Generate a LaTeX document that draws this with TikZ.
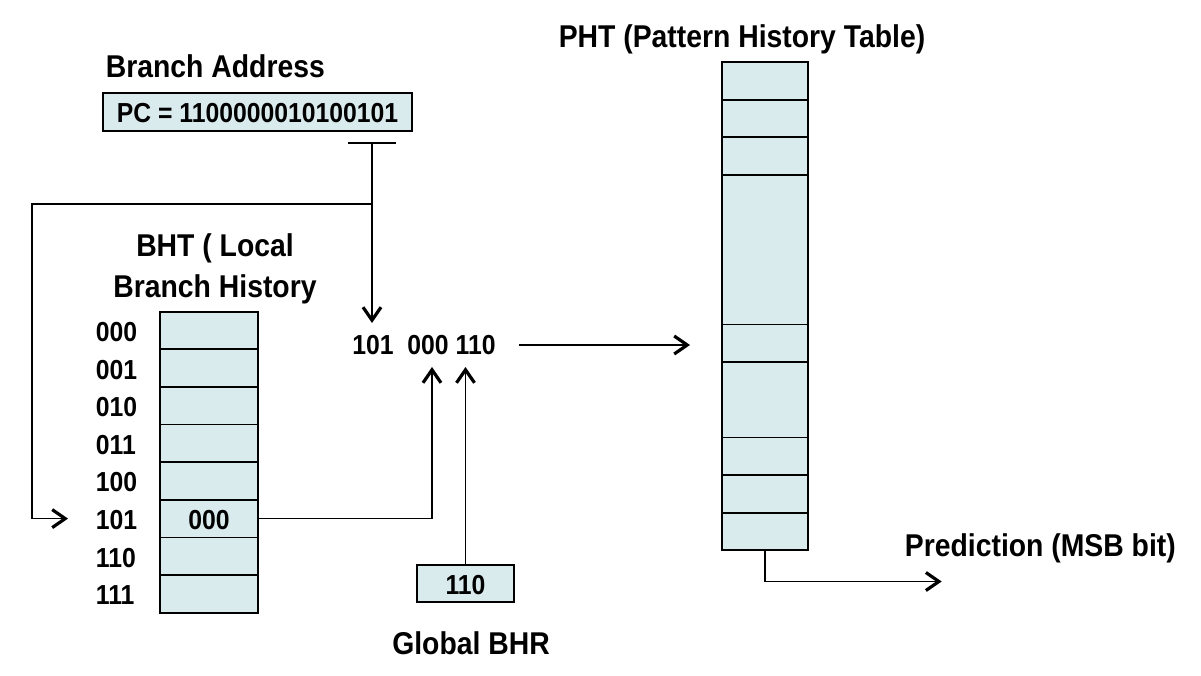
\documentclass[tikz,border=0pt]{standalone}
\usepackage{fontspec}
\newfontfamily\labfont{Liberation Sans}[FakeStretch=0.9]
\usetikzlibrary{arrows.meta}
\definecolor{cellfill}{RGB}{218,235,238}
\begin{document}
\begin{tikzpicture}[x=1pt,y=-1pt,line width=1.8pt,
  lab/.style={font=\labfont\bfseries\fontsize{31.5}{36}\selectfont, inner sep=0pt},
  dig/.style={font=\labfont\bfseries\fontsize{27.5}{32}\selectfont, inner sep=0pt},
  cell/.style={draw, fill=cellfill, inner sep=0pt, minimum width=98pt, minimum height=37.625pt},
  conn/.style={line width=1.5pt},
  arr/.style={conn, -{Straight Barb[length=13pt,width=18pt,line width=3.2pt]}}]
\useasboundingbox (0,0) rectangle (1201,676);

% titles
\node[lab, anchor=base west] (ba) at (105,78) {Branch Address};
\node[lab, anchor=base] (bht1) at (215,257) {BHT ( Local};
\node[lab, anchor=base] (bht2) at (215,297) {Branch History};
\node[lab, anchor=base] (phtt) at (742,48) {PHT (Pattern History Table)};
\node[lab, anchor=base] (gbhr) at (471,654) {Global BHR};
\node[lab, anchor=base west] (pred) at (904,556) {Prediction (MSB bit)};

% PC box
\node[draw, fill=cellfill, inner sep=0pt, minimum width=309pt, minimum height=38pt] (pc) at (257.5,112) {};
\node[dig] (pctext) at (257.5,113) {PC = 1100000010100101};

% BHT
\foreach \i/\b in {0/000,1/001,2/010,3/011,4/100,5/101,6/110,7/111} {
  \node[cell] (r\i) at (209,{311.7+37.625*(\i+0.5)}) {};
  \node[dig, anchor=west] (l\i) at (95,{311.7+37.625*(\i+0.5)+1.5}) {\b};
}
\node[dig] (bhtval) at (209,520) {000};

% index
\node[dig] (idx) at (424,345.5) {101\ \ 000 110};

% global BHR
\node[draw, fill=cellfill, inner sep=0pt, minimum width=97.6pt, minimum height=37.3pt] (bhr) at (465.5,583.7) {};
\node[dig] (bhrval) at (465.5,585) {110};

% PHT
\node[draw, fill=cellfill, inner sep=0pt, minimum width=85.7pt, minimum height=488.6pt] (pht) at (764.85,306) {};
\foreach \y in {99.7,137,175,324.5,362,437.5,475,512.7} {
  \draw (722,\y) -- (807.7,\y);
}

% connectors
\coordinate (tl) at (348,143);
\coordinate (tr) at (396,143);
\coordinate (tj) at (372,143);
\coordinate (split) at (372,204);
\coordinate (tip1) at (372,323);
\coordinate (tip2) at (68,518.6);
\coordinate (tip3) at (432,367);
\coordinate (tip4) at (465.5,367);
\coordinate (idxout) at (519,345);
\coordinate (phtin) at (690,345);
\coordinate (predtip) at (941.7,581.5);

\draw[conn] (tl) -- (tr);
\draw[arr] (tj) -- (tip1);
\draw[arr] (split) -- ++(-340,0) |- (tip2);
\draw[arr] (r5.east) -| (tip3);
\draw[arr] (bhr.north) -- (tip4);
\draw[arr] (idxout) -- (phtin);
\draw[arr] (pht.south) |- (predtip);
\end{tikzpicture}
\end{document}
